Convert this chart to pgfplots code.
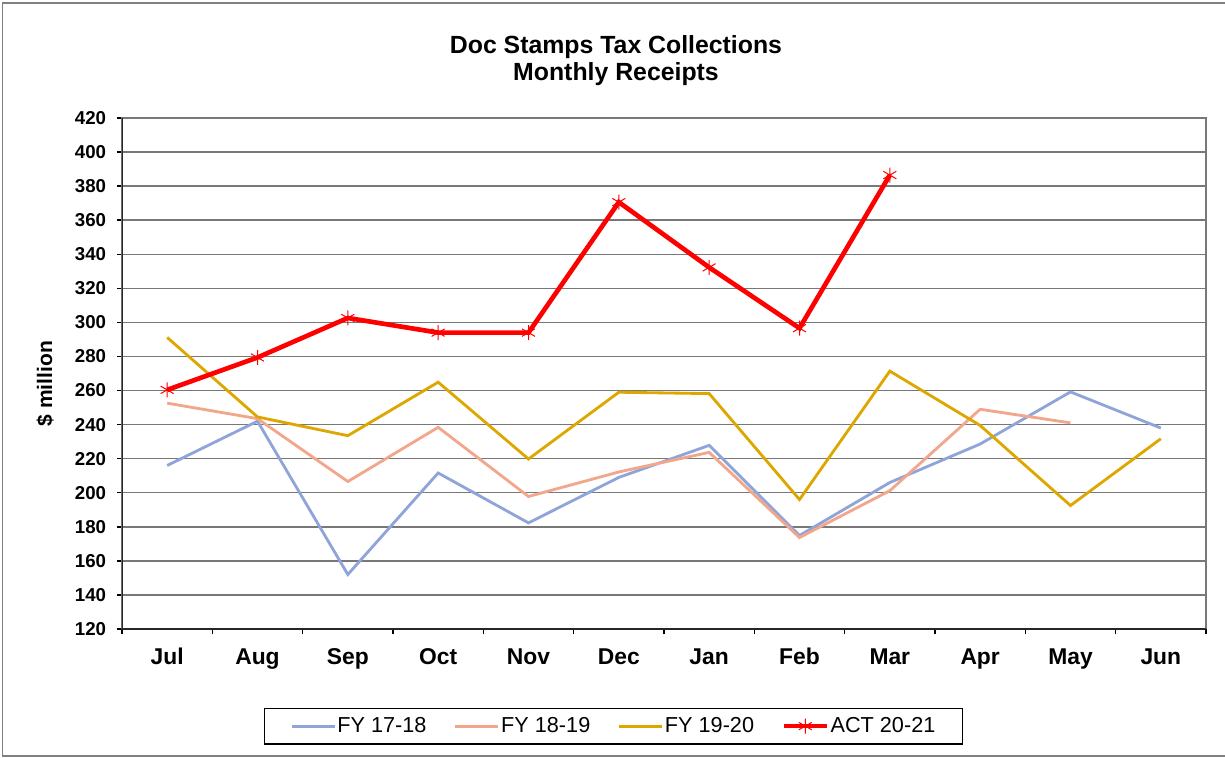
\documentclass[border=0pt]{standalone}
\usepackage{pgfplots}
\pgfplotsset{compat=1.18}
\usepackage{fontspec}
\setmainfont{Liberation Sans}

\definecolor{cA}{RGB}{143,164,217}
\definecolor{cB}{RGB}{242,166,140}
\definecolor{cC}{RGB}{222,167,0}
\definecolor{cD}{RGB}{255,0,0}
\definecolor{gridgray}{RGB}{120,120,120}

\begin{document}
\begin{tikzpicture}
\begin{scope}[x=0.6pt,y=0.6pt]
\useasboundingbox (0,0) rectangle (1225,757);
\draw[gray, line width=0.9pt] (1240,754) -- (2.5,754) -- (2.5,1) -- (1240,1);
\node[font=\fontsize{14.9}{16}\selectfont\bfseries, anchor=base] at (616,703.7) {Doc Stamps Tax Collections};
\node[font=\fontsize{14.9}{16}\selectfont\bfseries, anchor=base] at (616,676.3) {Monthly Receipts};
\end{scope}
\begin{axis}[
  at={(73.2pt,76.8pt)}, anchor=south west,
  width=650.4pt, height=306.6pt, scale only axis,
  xmin=-0.5, xmax=11.5, ymin=120, ymax=420,
  ytick={120,140,...,420},
  xtick={0,...,11},
  xticklabels={Jul,Aug,Sep,Oct,Nov,Dec,Jan,Feb,Mar,Apr,May,Jun},
  /pgf/number format/assume math mode=true,
  yticklabel style={font=\fontsize{11.2}{13}\selectfont\bfseries, xshift=-3pt},
  xticklabel style={font=\fontsize{13.7}{16}\selectfont\bfseries, yshift=-6.6pt, text height=1.6ex, text depth=0.4ex},
  ylabel={\$ million},
  every axis y label/.style={at={(axis description cs:-0.071,0.48)}, rotate=90, anchor=center, font=\fontsize{12.6}{15}\selectfont\bfseries},
  ymajorgrids,
  major grid style={draw=gridgray, line width=0.9pt},
  axis line style={draw=gridgray, line width=0.9pt},
  tick align=outside,
  major tick length=3pt,
  ytick pos=left, xtick pos=bottom,
  ytick style={draw=black, line width=0.9pt},
  xtick style={draw=none},
  extra x ticks={-0.5,0.5,1.5,2.5,3.5,4.5,5.5,6.5,7.5,8.5,9.5,10.5,11.5},
  extra x tick labels={},
  extra x tick style={xtick style={draw=black, line width=0.9pt}, grid=none},
  legend columns=4,
  legend style={at={(axis description cs:0.4534,-0.1900)}, anchor=center,
    draw=black, line width=0.7pt,
    font=\fontsize{13}{15}\selectfont,
    inner xsep=15.5pt, inner ysep=3.5pt,
    nodes={inner xsep=0.9pt},
    /tikz/every odd column/.append style={column sep=0pt},
    /tikz/every even column/.append style={column sep=15.5pt}},
  legend image code/.code={\draw[mark repeat=2,mark phase=2] plot coordinates {(0pt,0pt) (12.9pt,0pt) (25.8pt,0pt)};},
]
\addplot[cA, line width=1.7pt] coordinates {(0,216) (1,242) (2,152) (3,211.6) (4,182.3) (5,209) (6,227.8) (7,174.9) (8,206) (9,228.6) (10,259.2) (11,238)};
\addlegendentry{FY 17-18}
\addplot[cB, line width=1.7pt] coordinates {(0,252.6) (1,243.5) (2,206.6) (3,238.4) (4,197.8) (5,212.2) (6,223.7) (7,173.7) (8,201.2) (9,249) (10,241)};
\addlegendentry{FY 18-19}
\addplot[cC, line width=1.7pt] coordinates {(0,291.2) (1,244.5) (2,233.5) (3,264.9) (4,219.8) (5,259) (6,258.2) (7,196) (8,271.4) (9,239.5) (10,192.5) (11,231.7)};
\addlegendentry{FY 19-20}
\addplot[cD, line width=2.8pt, mark=asterisk, mark size=4.5pt, mark options={line width=0.6pt, solid}] coordinates {(0,260.4) (1,279.4) (2,302.6) (3,294) (4,294) (5,370.6) (6,332.3) (7,296.6) (8,386.5)};
\addlegendentry{ACT 20-21}
\draw[black!85, line width=1.2pt] (rel axis cs:0,1) -- (rel axis cs:0,0) -- (rel axis cs:1,0);
\end{axis}
\end{tikzpicture}
\end{document}
